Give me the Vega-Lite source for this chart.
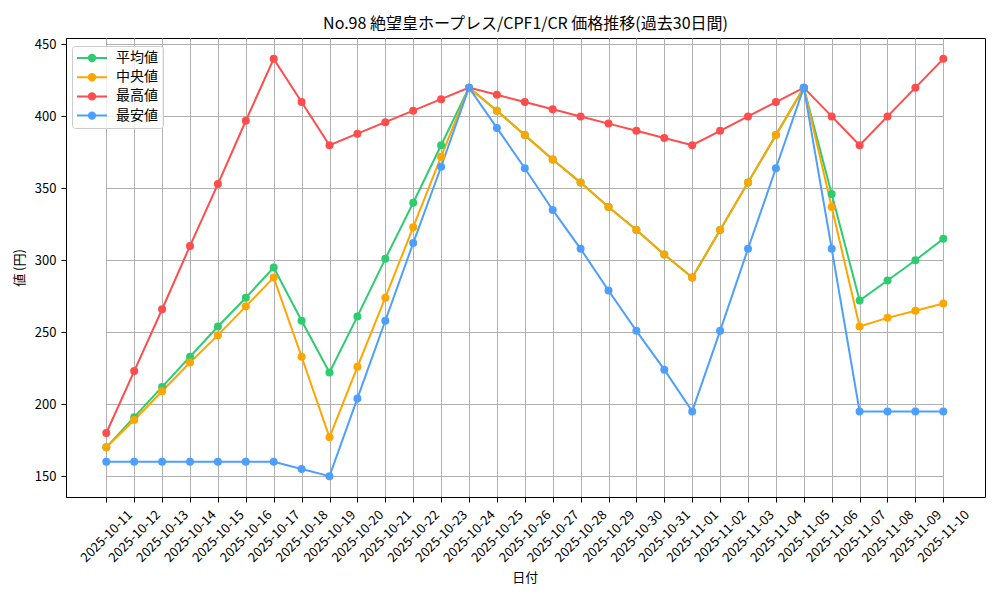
{
  "$schema": "https://vega.github.io/schema/vega-lite/v6.json",
  "width": 919,
  "height": 459,
  "autosize": {"type": "none"},
  "padding": {"left": 66, "top": 38, "right": 15, "bottom": 103},
  "background": "white",
  "title": {
    "text": "No.98 絶望皇ホープレス/CPF1/CR 価格推移(過去30日間)",
    "fontSize": 16,
    "fontWeight": "normal",
    "font": "Noto Sans CJK JP",
    "color": "black",
    "anchor": "middle",
    "offset": 6
  },
  "data": {
    "values": [
      {"date": "2025-10-11", "平均値": 170, "中央値": 170, "最高値": 180, "最安値": 160},
      {"date": "2025-10-12", "平均値": 191, "中央値": 189, "最高値": 223, "最安値": 160},
      {"date": "2025-10-13", "平均値": 212, "中央値": 209, "最高値": 266, "最安値": 160},
      {"date": "2025-10-14", "平均値": 233, "中央値": 229, "最高値": 310, "最安値": 160},
      {"date": "2025-10-15", "平均値": 254, "中央値": 248, "最高値": 353, "最安値": 160},
      {"date": "2025-10-16", "平均値": 274, "中央値": 268, "最高値": 397, "最安値": 160},
      {"date": "2025-10-17", "平均値": 295, "中央値": 288, "最高値": 440, "最安値": 160},
      {"date": "2025-10-18", "平均値": 258, "中央値": 233, "最高値": 410, "最安値": 155},
      {"date": "2025-10-19", "平均値": 222, "中央値": 177, "最高値": 380, "最安値": 150},
      {"date": "2025-10-20", "平均値": 261, "中央値": 226, "最高値": 388, "最安値": 204},
      {"date": "2025-10-21", "平均値": 301, "中央値": 274, "最高値": 396, "最安値": 258},
      {"date": "2025-10-22", "平均値": 340, "中央値": 323, "最高値": 404, "最安値": 312},
      {"date": "2025-10-23", "平均値": 380, "中央値": 372, "最高値": 412, "最安値": 365},
      {"date": "2025-10-24", "平均値": 420, "中央値": 420, "最高値": 420, "最安値": 420},
      {"date": "2025-10-25", "平均値": 404, "中央値": 404, "最高値": 415, "最安値": 392},
      {"date": "2025-10-26", "平均値": 387, "中央値": 387, "最高値": 410, "最安値": 364},
      {"date": "2025-10-27", "平均値": 370, "中央値": 370, "最高値": 405, "最安値": 335},
      {"date": "2025-10-28", "平均値": 354, "中央値": 354, "最高値": 400, "最安値": 308},
      {"date": "2025-10-29", "平均値": 337, "中央値": 337, "最高値": 395, "最安値": 279},
      {"date": "2025-10-30", "平均値": 321, "中央値": 321, "最高値": 390, "最安値": 251},
      {"date": "2025-10-31", "平均値": 304, "中央値": 304, "最高値": 385, "最安値": 224},
      {"date": "2025-11-01", "平均値": 288, "中央値": 288, "最高値": 380, "最安値": 195},
      {"date": "2025-11-02", "平均値": 321, "中央値": 321, "最高値": 390, "最安値": 251},
      {"date": "2025-11-03", "平均値": 354, "中央値": 354, "最高値": 400, "最安値": 308},
      {"date": "2025-11-04", "平均値": 387, "中央値": 387, "最高値": 410, "最安値": 364},
      {"date": "2025-11-05", "平均値": 420, "中央値": 420, "最高値": 420, "最安値": 420},
      {"date": "2025-11-06", "平均値": 346, "中央値": 337, "最高値": 400, "最安値": 308},
      {"date": "2025-11-07", "平均値": 272, "中央値": 254, "最高値": 380, "最安値": 195},
      {"date": "2025-11-08", "平均値": 286, "中央値": 260, "最高値": 400, "最安値": 195},
      {"date": "2025-11-09", "平均値": 300, "中央値": 265, "最高値": 420, "最安値": 195},
      {"date": "2025-11-10", "平均値": 315, "中央値": 270, "最高値": 440, "最安値": 195}
    ]
  },
  "transform": [
    {"fold": ["平均値", "中央値", "最高値", "最安値"], "as": ["series", "value"]}
  ],
  "mark": {
    "type": "line",
    "strokeWidth": 2,
    "point": {"filled": true, "size": 64, "opacity": 1}
  },
  "encoding": {
    "x": {
      "field": "date",
      "type": "ordinal",
      "sort": null,
      "scale": {"type": "point", "padding": 0, "range": [40.3, 877.3]},
      "axis": {
        "title": "日付",
        "labelAngle": -45,
        "labelAlign": "center",
        "labelBaseline": "middle",
        "labelPadding": 34,
        "titlePadding": 7
      }
    },
    "y": {
      "field": "value",
      "type": "quantitative",
      "scale": {"domain": [135.5, 454.5], "nice": false, "zero": false},
      "axis": {
        "title": "値 (円)",
        "values": [150, 200, 250, 300, 350, 400, 450],
        "labelPadding": 5,
        "titlePadding": 8
      }
    },
    "color": {
      "field": "series",
      "type": "nominal",
      "sort": ["平均値", "中央値", "最高値", "最安値"],
      "scale": {
        "domain": ["平均値", "中央値", "最高値", "最安値"],
        "range": ["#2ecc71", "#ffa500", "#ff4d4d", "#4d9fff"]
      },
      "legend": {
        "title": null,
        "orient": "none",
        "legendX": 6,
        "legendY": 8,
        "padding": 5,
        "rowPadding": 3.2,
        "labelOffset": 25,
        "labelFontSize": 14,
        "labelColor": "black",
        "symbolType": "M-1.4,0H4.6M2.24,0A0.64,0.64 0 1,1 0.96,0A0.64,0.64 0 1,1 2.24,0M1.9,0A0.3,0.3 0 1,1 1.3,0A0.3,0.3 0 1,1 1.9,0",
        "symbolSize": 100,
        "symbolStrokeWidth": 2,
        "strokeColor": "#cccccc",
        "fillColor": "rgba(255,255,255,0.8)",
        "cornerRadius": 3
      }
    }
  },
  "config": {
    "font": "Noto Sans CJK JP",
    "view": {"stroke": "black", "strokeWidth": 1},
    "axis": {
      "domainColor": "black",
      "domainWidth": 1,
      "tickColor": "black",
      "tickWidth": 1,
      "tickSize": 5,
      "grid": true,
      "gridColor": "#b0b0b0",
      "gridWidth": 1,
      "labelColor": "black",
      "labelFontSize": 13,
      "labelFont": "Noto Sans CJK JP",
      "titleFont": "Noto Sans CJK JP",
      "titleFontSize": 13,
      "titleFontWeight": "normal",
      "titleColor": "black"
    },
    "legend": {"labelFont": "Noto Sans CJK JP"}
  }
}
